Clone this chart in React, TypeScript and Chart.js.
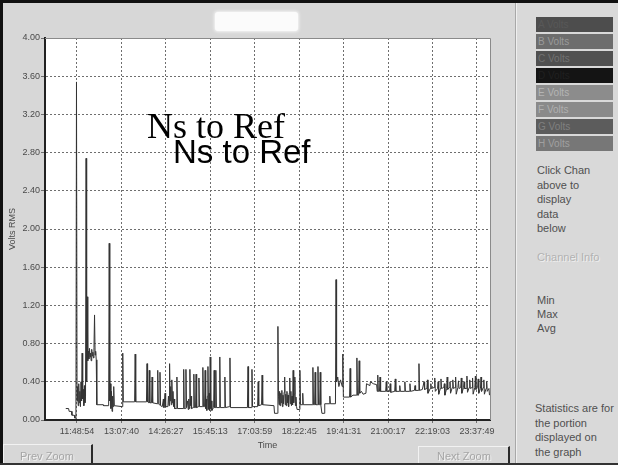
import React, { useEffect, useRef } from "react";
import { Chart, registerables } from "chart.js";

Chart.register(...registerables);

// ---- data ----
const tickLabels = ["11:48:54", "13:07:40", "14:26:27", "15:45:13", "17:03:59", "18:22:45", "19:41:31", "21:00:17", "22:19:03", "23:37:49"];
const yTicks = [0, 0.4, 0.8, 1.2, 1.6, 2.0, 2.4, 2.8, 3.2, 3.6, 4.0];
const xRange = ["10:52:11", "24:00:54"];

const times = [
  "11:29", "11:34", "11:35", "11:39", "11:40", "11:44", "11:45", "11:47", "11:48", "11:49",
  "11:50", "11:51", "11:52", "11:53", "11:54", "11:55", "11:56", "11:57", "11:58", "11:59",
  "12:00", "12:01", "12:02", "12:03", "12:04", "12:05", "12:06", "12:07", "12:08", "12:09",
  "12:10", "12:11", "12:12", "12:13", "12:14", "12:15", "12:16", "12:17", "12:18", "12:19",
  "12:20", "12:21", "12:22", "12:23", "12:24", "12:35", "12:36", "12:45", "12:46", "12:47",
  "12:48", "12:49", "12:50", "12:51", "12:52", "12:53", "12:54", "12:55", "13:09", "13:10",
  "13:11", "13:31", "13:32", "13:33", "13:52", "13:53", "13:54", "13:56", "13:57", "13:58",
  "14:01", "14:02", "14:03", "14:11", "14:12", "14:13", "14:15", "14:16", "14:17", "14:20",
  "14:22", "14:23", "14:25", "14:26", "14:30", "14:31", "14:32", "14:33", "14:34", "14:35",
  "14:36", "14:37", "14:38", "14:39", "14:40", "14:41", "14:42", "14:45", "14:46", "14:47",
  "14:57", "14:58", "14:59", "15:01", "15:02", "15:03", "15:05", "15:06", "15:07", "15:08",
  "15:09", "15:10", "15:11", "15:12", "15:15", "15:16", "15:17", "15:19", "15:20", "15:21",
  "15:24", "15:25", "15:26", "15:31", "15:32", "15:33", "15:35", "15:36", "15:37", "15:38",
  "15:39", "15:40", "15:41", "15:42", "15:43", "15:44", "15:45", "15:46", "15:47", "15:48",
  "15:51", "15:52", "15:53", "15:54", "15:55", "15:56", "16:01", "16:02", "16:03", "16:10",
  "16:11", "16:12", "16:19", "16:20", "16:21", "16:51", "16:52", "16:53", "16:58", "16:59",
  "17:00", "17:09", "17:10", "17:11", "17:16", "17:17", "17:18", "17:38", "17:39", "17:44",
  "17:45", "17:46", "17:47", "17:48", "17:49", "17:50", "17:51", "17:52", "17:53", "17:54",
  "17:55", "17:56", "17:57", "17:58", "17:59", "18:00", "18:01", "18:02", "18:03", "18:04",
  "18:05", "18:06", "18:07", "18:08", "18:09", "18:10", "18:11", "18:12", "18:13", "18:14",
  "18:15", "18:16", "18:17", "18:18", "18:19", "18:23", "18:24", "18:25", "18:28", "18:29",
  "18:30", "18:46", "18:47", "18:48", "18:50", "18:51", "18:52", "18:55", "18:56", "18:57",
  "18:59", "19:00", "19:01", "19:03", "19:07", "19:08", "19:16", "19:17", "19:18", "19:27",
  "19:28", "19:29", "19:31", "19:33", "19:36", "19:39", "19:40", "19:41", "19:52", "19:53",
  "19:54", "19:58", "20:04", "20:05", "20:06", "20:08", "20:09", "20:10", "20:13", "20:16",
  "20:21", "20:22", "20:28", "20:29", "20:34", "20:40", "20:41", "20:42", "20:43", "20:45",
  "20:46", "20:47", "20:56", "20:57", "20:58", "21:03", "21:04", "21:05", "21:12", "21:13",
  "21:14", "21:20", "21:21", "21:22", "21:29", "21:30", "21:31", "21:38", "21:39", "21:40",
  "21:47", "21:48", "21:49", "21:54", "21:55", "21:56", "22:01", "22:04", "22:05", "22:09",
  "22:10", "22:11", "22:15", "22:16", "22:17", "22:22", "22:23", "22:24", "22:28", "22:29",
  "22:30", "22:33", "22:34", "22:35", "22:39", "22:40", "22:41", "22:44", "22:45", "22:46",
  "22:49", "22:50", "22:51", "22:54", "22:55", "22:56", "22:59", "23:00", "23:01", "23:04",
  "23:05", "23:06", "23:09", "23:10", "23:11", "23:14", "23:15", "23:16", "23:19", "23:20",
  "23:21", "23:24", "23:25", "23:26", "23:29", "23:30", "23:31", "23:34", "23:35", "23:36",
  "23:39", "23:40", "23:41", "23:44", "23:45", "23:46", "23:49", "23:50", "23:51", "23:54",
  "23:55", "23:56", "23:59", "24:00",
];

const volts = [
  0.12, 0.12, 0.09, 0.09, 0.05, 0.05, 0.02, 0.02, 3.54, 0.20,
  0.35, 0.15, 0.38, 0.18, 0.30, 0.14, 0.40, 0.20, 0.70, 0.22,
  0.32, 0.15, 0.36, 0.18, 0.25, 2.74, 0.40, 1.29, 0.62, 0.72,
  0.64, 0.75, 0.66, 0.70, 0.62, 0.74, 0.67, 0.71, 0.65, 0.76,
  1.10, 0.68, 0.72, 0.63, 0.16, 0.16, 0.15, 0.15, 1.85, 0.20,
  0.38, 0.12, 0.30, 0.09, 0.25, 0.14, 0.35, 0.15, 0.14, 0.70,
  0.19, 0.19, 0.69, 0.19, 0.19, 0.59, 0.19, 0.18, 0.52, 0.18,
  0.18, 0.45, 0.18, 0.17, 0.52, 0.17, 0.16, 0.50, 0.15, 0.14,
  0.22, 0.13, 0.28, 0.14, 0.14, 0.25, 0.15, 0.59, 0.20, 0.35,
  0.16, 0.42, 0.18, 0.30, 0.14, 0.22, 0.12, 0.12, 0.45, 0.12,
  0.12, 0.53, 0.12, 0.12, 0.53, 0.13, 0.20, 0.11, 0.22, 0.12,
  0.53, 0.15, 0.25, 0.12, 0.13, 0.48, 0.13, 0.13, 0.48, 0.13,
  0.14, 0.44, 0.14, 0.14, 0.55, 0.14, 0.14, 0.52, 0.12, 0.22,
  0.10, 0.25, 0.56, 0.11, 0.28, 0.10, 0.66, 0.12, 0.20, 0.10,
  0.13, 0.52, 0.13, 0.13, 0.52, 0.13, 0.13, 0.66, 0.13, 0.13,
  0.45, 0.13, 0.14, 0.65, 0.13, 0.13, 0.56, 0.13, 0.13, 0.53,
  0.14, 0.14, 0.40, 0.15, 0.16, 0.47, 0.16, 0.15, 0.07, 0.07,
  0.98, 0.25, 0.16, 0.30, 0.15, 0.28, 0.18, 0.31, 0.14, 0.26,
  0.17, 0.29, 0.45, 0.16, 0.27, 0.15, 0.30, 0.18, 0.26, 0.14,
  0.28, 0.44, 0.17, 0.30, 0.15, 0.25, 0.16, 0.52, 0.18, 0.27,
  0.45, 0.15, 0.24, 0.14, 0.11, 0.11, 0.52, 0.16, 0.16, 0.28,
  0.16, 0.16, 0.55, 0.16, 0.16, 0.50, 0.16, 0.16, 0.56, 0.16,
  0.16, 0.50, 0.16, 0.07, 0.07, 0.17, 0.17, 0.25, 0.17, 0.17,
  1.47, 0.40, 0.45, 0.35, 0.42, 0.35, 0.69, 0.24, 0.24, 0.54,
  0.24, 0.26, 0.26, 0.65, 0.26, 0.26, 0.62, 0.28, 0.30, 0.27,
  0.28, 0.38, 0.36, 0.40, 0.38, 0.37, 0.30, 0.47, 0.30, 0.30,
  0.45, 0.30, 0.30, 0.40, 0.30, 0.30, 0.38, 0.29, 0.30, 0.43,
  0.30, 0.30, 0.36, 0.30, 0.30, 0.40, 0.30, 0.30, 0.38, 0.30,
  0.31, 0.36, 0.31, 0.31, 0.59, 0.31, 0.32, 0.40, 0.32, 0.33,
  0.42, 0.28, 0.33, 0.38, 0.33, 0.34, 0.44, 0.30, 0.33, 0.40,
  0.27, 0.33, 0.43, 0.33, 0.34, 0.38, 0.26, 0.33, 0.45, 0.32,
  0.34, 0.40, 0.28, 0.34, 0.42, 0.33, 0.34, 0.45, 0.27, 0.34,
  0.41, 0.33, 0.34, 0.44, 0.28, 0.34, 0.40, 0.33, 0.33, 0.46,
  0.29, 0.34, 0.42, 0.33, 0.34, 0.44, 0.27, 0.34, 0.46, 0.32,
  0.34, 0.43, 0.28, 0.33, 0.45, 0.30, 0.34, 0.42, 0.27, 0.33,
  0.40, 0.30, 0.33, 0.26,
];

const channels = ["A Volts", "B Volts", "C Volts", "D Volts", "E Volts", "F Volts", "G Volts", "H Volts"];
const helpLines = ["Click Chan", "above to", "display", "data", "below"];
const statNames = ["Min", "Max", "Avg"];
const statNote = ["Statistics are for", "the portion", "displayed on", "the graph"];

// ---- styles ----
const chanBg = ["#4d4d4d", "#6d6d6d", "#505050", "#141414", "#8c8c8c", "#8a8a8a", "#5c5c5c", "#777777"];
const chanFg = ["#585858", "#9a9a9a", "#727272", "#202020", "#b4b4b4", "#b0b0b0", "#808080", "#a0a0a0"];

function toMin(s: string): number {
  const p = s.split(":").map(Number);
  return p[0] * 60 + (p[1] || 0) + (p[2] || 0) / 60;
}

const plotFrame = {
  id: "plotFrame",
  beforeDraw(chart: any) {
    const { ctx, chartArea: a } = chart;
    ctx.save();
    ctx.fillStyle = "#ffffff";
    ctx.fillRect(a.left, a.top, a.right - a.left, a.bottom - a.top);
    ctx.restore();
  },
  afterDraw(chart: any) {
    const { ctx, chartArea: a } = chart;
    ctx.save();
    ctx.strokeStyle = "#8a8a8a";
    ctx.lineWidth = 1;
    ctx.beginPath();
    ctx.moveTo(a.left, a.top + 0.5);
    ctx.lineTo(a.right + 0.5, a.top + 0.5);
    ctx.lineTo(a.right + 0.5, a.bottom);
    ctx.stroke();
    ctx.restore();
  },
};

export default function App() {
  const ref = useRef<HTMLCanvasElement>(null);

  useEffect(() => {
    const tickTimes = tickLabels.map(toMin);
    const points = times.map((t, i) => ({ x: toMin(t), y: volts[i] }));
    const chart = new Chart(ref.current!, {
      type: "line",
      data: {
        datasets: [
          {
            data: points,
            borderColor: "#333333",
            borderWidth: 1,
            pointRadius: 0,
            tension: 0,
            fill: false,
          },
        ],
      },
      options: {
        responsive: false,
        animation: false,
        devicePixelRatio: 1,
        layout: { padding: { left: 0, top: 38, right: 128, bottom: 0 } },
        plugins: { legend: { display: false }, tooltip: { enabled: false } },
        scales: {
          x: {
            type: "linear",
            min: toMin(xRange[0]),
            max: toMin(xRange[1]),
            afterFit: (s: any) => { s.height = 45; },
            afterBuildTicks: (s: any) => { s.ticks = tickTimes.map((v) => ({ value: v })); },
            ticks: {
              autoSkip: false,
              maxRotation: 0,
              padding: 3,
              color: "#4a4a4a",
              font: { family: "Arial", size: 9 },
              callback: (_v: any, i: number) => tickLabels[i],
            },
            grid: { color: "#6e6e6e", lineWidth: 1, drawTicks: true, tickLength: 3 },
            border: { display: true, color: "#222222", width: 2, dash: [2, 2] },
            title: {
              display: true,
              text: "Time",
              color: "#4a4a4a",
              font: { family: "Arial", size: 9 },
              padding: { top: 0, bottom: 14 },
            },
          },
          y: {
            type: "linear",
            min: 0,
            max: 4,
            afterFit: (s: any) => { s.width = 45; },
            afterBuildTicks: (s: any) => { s.ticks = yTicks.map((v) => ({ value: v })); },
            ticks: {
              padding: 1,
              color: "#4a4a4a",
              font: { family: "Arial", size: 9 },
              callback: (v: any) => Number(v).toFixed(2),
            },
            grid: { color: "#6e6e6e", lineWidth: 1, drawTicks: true, tickLength: 4 },
            border: { display: true, color: "#222222", width: 2, dash: [2, 2] },
            title: {
              display: true,
              text: "Volts RMS",
              color: "#4a4a4a",
              font: { family: "Arial", size: 9 },
              padding: { top: 7, bottom: 0 },
            },
          },
        },
      },
      plugins: [plotFrame],
    });
    return () => chart.destroy();
  }, []);

  const abs = (o: any): React.CSSProperties => ({ position: "absolute", ...o });
  const sideFont = "11px Arial, 'Liberation Sans', sans-serif";

  return (
    <div style={abs({ left: 0, top: 0, width: 618, height: 465, background: "#d7d7d7", overflow: "hidden", position: "fixed" })}>
      <canvas ref={ref} width={618} height={465} style={abs({ left: 0, top: 0, width: 618, height: 465 })} />

      {/* title box */}
      <div style={abs({ left: 215, top: 12, width: 83, height: 19, background: "#fbfbfb", borderRadius: 3, boxShadow: "0 0 3px 1px #f4f4f4" })} />

      {/* overlay labels */}
      <div style={abs({ left: 147, top: 108, font: "36px 'Liberation Serif', 'Times New Roman', serif", lineHeight: "36px", color: "#000", whiteSpace: "nowrap" })}>Ns to Ref</div>
      <div style={abs({ left: 173, top: 135, font: "33px 'Liberation Sans', Arial, sans-serif", lineHeight: "33px", color: "#000", whiteSpace: "nowrap" })}>Ns to Ref</div>

      {/* bottom buttons */}
      <div style={abs({ left: 3, top: 444, width: 90, height: 21, borderTop: "1px solid #f2f2f2", borderLeft: "1px solid #f2f2f2", borderRight: "2px solid #2a2a2a", boxSizing: "border-box" })}>
        <div style={abs({ left: 16, top: 4, font: sideFont, lineHeight: "14px", color: "#a6a6a6", textShadow: "1px 1px 0 #f2f2f2", whiteSpace: "nowrap" })}>Prev Zoom</div>
      </div>
      <div style={abs({ left: 418, top: 446, width: 92, height: 19, borderTop: "1px solid #f2f2f2", borderLeft: "1px solid #f2f2f2", borderRight: "2px solid #2a2a2a", boxSizing: "border-box" })}>
        <div style={abs({ left: 18, top: 2, font: sideFont, lineHeight: "14px", color: "#a6a6a6", textShadow: "1px 1px 0 #f2f2f2", whiteSpace: "nowrap" })}>Next Zoom</div>
      </div>

      {/* sidebar */}
      <div style={abs({ left: 515, top: 0, width: 103, height: 465, background: "#d9d9d9", borderLeft: "1px solid #a8a8a8", boxShadow: "inset 1px 0 0 #efefef" })}>
        {channels.map((c, i) => (
          <div key={c} style={abs({ left: 20, top: 17 + i * 17, width: 77, height: 15, background: chanBg[i], color: chanFg[i], font: "10px Arial, sans-serif", lineHeight: "15px", paddingLeft: 2, boxSizing: "border-box", whiteSpace: "nowrap", overflow: "hidden" })}>
            {c}
          </div>
        ))}
        <div style={abs({ left: 21, top: 163, font: sideFont, lineHeight: "14.5px", color: "#505050" })}>
          {helpLines.map((l) => (<div key={l}>{l}</div>))}
        </div>
        <div style={abs({ left: 21, top: 250, font: sideFont, lineHeight: "14px", color: "#b2b2b2", textShadow: "1px 1px 0 #efefef" })}>Channel Info</div>
        <div style={abs({ left: 21, top: 293, font: sideFont, lineHeight: "14px", color: "#505050" })}>
          {statNames.map((l) => (<div key={l}>{l}</div>))}
        </div>
        <div style={abs({ left: 19, top: 401, font: sideFont, lineHeight: "14.5px", color: "#505050", whiteSpace: "nowrap" })}>
          {statNote.map((l) => (<div key={l}>{l}</div>))}
        </div>
      </div>

      {/* outer frame */}
      <div style={abs({ left: 0, top: 0, width: 618, height: 3, background: "#111" })} />
      <div style={abs({ left: 0, top: 0, width: 3, height: 465, background: "#111" })} />
      <div style={abs({ left: 0, top: 463, width: 618, height: 2, background: "#333" })} />
    </div>
  );
}
